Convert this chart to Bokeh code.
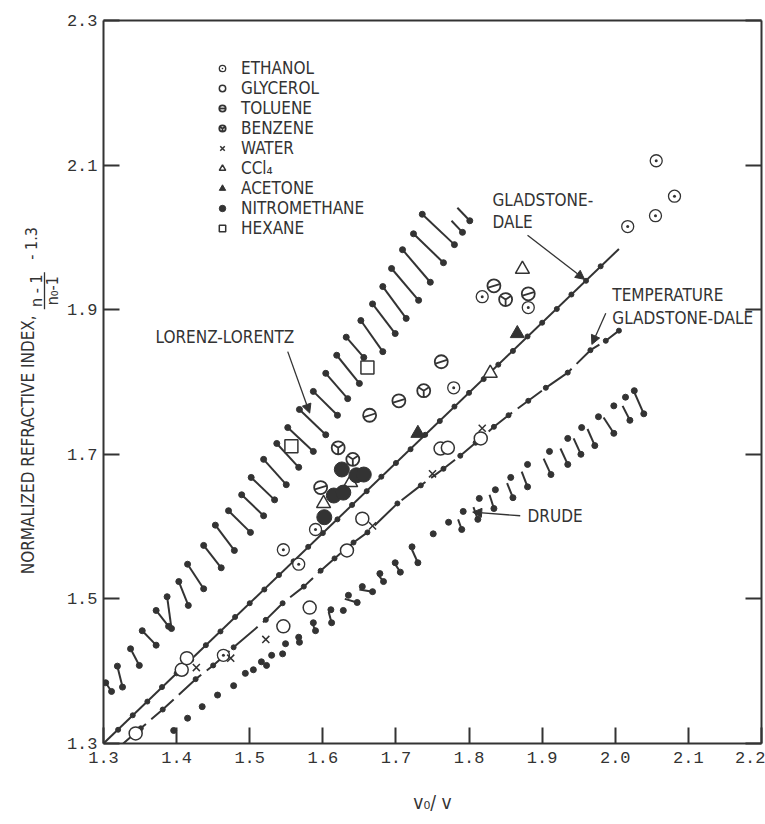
import math
from bokeh.plotting import figure
from bokeh.layouts import row
from bokeh.models import (Range1d, LinearAxis, FixedTicker, Label, Arrow, NormalHead,
                          Legend, LegendItem, PrintfTickFormatter, CustomJSTickFormatter)
from bokeh.embed import file_html
from bokeh.resources import INLINE

INK = "#333333"
SANS = "'Liberation Sans Narrow', 'DejaVu Sans Condensed', 'Roboto Condensed', sans-serif"
MONO = "Liberation Mono"

# ---------------- data ----------------
x_ticks = [1.3, 1.4, 1.5, 1.6, 1.7, 1.8, 1.9, 2.0, 2.1, 2.2]
y_ticks = [1.3, 1.5, 1.7, 1.9, 2.1, 2.3]

# Gladstone-Dale line and its dots
gd_line_x = [1.300, 2.005]
gd_line_y = [1.300, 1.984]
gd_dot_x = [1.32, 1.34, 1.36, 1.38, 1.40, 1.42, 1.44, 1.46, 1.48, 1.50, 1.52, 1.54, 1.56, 1.58,
            1.60, 1.62, 1.64, 1.66, 1.68, 1.70, 1.72, 1.74, 1.76, 1.78, 1.80, 1.82, 1.84, 1.86,
            1.88, 1.90, 1.92, 1.94, 1.96, 1.98]
gd_dot_y = [1.319, 1.339, 1.358, 1.378, 1.397, 1.416, 1.436, 1.455, 1.475, 1.494, 1.513, 1.533,
            1.552, 1.572, 1.591, 1.610, 1.630, 1.649, 1.669, 1.688, 1.707, 1.727, 1.746, 1.766,
            1.785, 1.804, 1.824, 1.843, 1.863, 1.882, 1.901, 1.921, 1.940, 1.960]

# Temperature Gladstone-Dale (dashed, with dots)
tgd_x = [1.327, 1.351, 1.381, 1.426, 1.450, 1.478, 1.522, 1.545, 1.574, 1.597, 1.616, 1.642,
         1.661, 1.702, 1.734, 1.765, 1.788, 1.809, 1.834, 1.854, 1.881, 1.905, 1.935, 1.966,
         1.987, 2.005]
tgd_y = [1.300, 1.321, 1.347, 1.389, 1.408, 1.433, 1.471, 1.494, 1.517, 1.539, 1.556, 1.578,
         1.592, 1.632, 1.657, 1.680, 1.698, 1.716, 1.738, 1.754, 1.774, 1.792, 1.813, 1.844,
         1.857, 1.871]

# Lorenz-Lorentz dumbbells: upper-left end -> lower-right end
ll_x0 = [1.784, 1.776, 1.736, 1.724, 1.709, 1.694, 1.682, 1.668, 1.652, 1.632, 1.619, 1.604,
         1.587, 1.568, 1.552, 1.537, 1.519, 1.502, 1.489, 1.471, 1.453, 1.437, 1.415, 1.403,
         1.387, 1.372, 1.353, 1.337, 1.319, 1.303]
ll_y0 = [2.041, 2.023, 2.032, 2.005, 1.983, 1.957, 1.932, 1.908, 1.885, 1.862, 1.837, 1.812,
         1.787, 1.762, 1.737, 1.715, 1.693, 1.668, 1.644, 1.622, 1.602, 1.574, 1.548, 1.524,
         1.503, 1.484, 1.456, 1.431, 1.407, 1.384]
ll_x1 = [1.801, 1.791, 1.780, 1.765, 1.747, 1.731, 1.714, 1.699, 1.682, 1.656, 1.650, 1.634,
         1.620, 1.604, 1.587, 1.567, 1.550, 1.534, 1.519, 1.501, 1.479, 1.461, 1.437, 1.416,
         1.393, 1.389, 1.372, 1.349, 1.326, 1.311]
ll_y1 = [2.023, 2.007, 1.990, 1.965, 1.938, 1.913, 1.888, 1.867, 1.842, 1.834, 1.798, 1.777,
         1.754, 1.727, 1.704, 1.682, 1.658, 1.637, 1.615, 1.592, 1.567, 1.543, 1.514, 1.491,
         1.459, 1.462, 1.436, 1.408, 1.378, 1.372]
ll_top_dot = [False, False] + [True] * 28

# Drude: dots and the short strokes that run down to them
dr_dot_x = [1.396, 1.415, 1.435, 1.456, 1.478, 1.494, 1.505, 1.516, 1.523, 1.530, 1.545, 1.549,
            1.567, 1.568, 1.587, 1.590, 1.611, 1.612, 1.628, 1.635, 1.647, 1.654, 1.668, 1.678,
            1.683, 1.699, 1.706, 1.722, 1.730, 1.751, 1.772, 1.790, 1.792, 1.812, 1.814, 1.834,
            1.836, 1.860, 1.857, 1.880, 1.880, 1.912, 1.910, 1.935, 1.935, 1.953, 1.954, 1.972,
            1.977, 1.998, 1.998, 2.020, 2.014, 2.039, 2.026]
dr_dot_y = [1.318, 1.335, 1.351, 1.367, 1.380, 1.397, 1.402, 1.413, 1.408, 1.422, 1.424, 1.438,
            1.447, 1.440, 1.467, 1.456, 1.485, 1.467, 1.484, 1.505, 1.495, 1.517, 1.510, 1.535,
            1.524, 1.550, 1.537, 1.572, 1.550, 1.590, 1.606, 1.596, 1.621, 1.610, 1.639, 1.625,
            1.651, 1.640, 1.668, 1.655, 1.686, 1.672, 1.704, 1.686, 1.722, 1.700, 1.737, 1.712,
            1.752, 1.729, 1.767, 1.747, 1.779, 1.756, 1.788]
dr_x0 = [2.026, 2.010, 1.984, 1.962, 1.943, 1.925, 1.902, 1.872, 1.852, 1.828, 1.806, 1.785,
         1.722, 1.699, 1.676, 1.650, 1.630, 1.608, 1.586, 1.566]
dr_y0 = [1.786, 1.767, 1.751, 1.735, 1.722, 1.708, 1.694, 1.676, 1.660, 1.644, 1.627, 1.610,
         1.568, 1.548, 1.533, 1.513, 1.500, 1.482, 1.465, 1.447]
dr_x1 = [2.039, 2.020, 1.998, 1.972, 1.953, 1.935, 1.912, 1.880, 1.860, 1.834, 1.812, 1.790,
         1.730, 1.706, 1.683, 1.668, 1.647, 1.612, 1.590, 1.568]
dr_y1 = [1.756, 1.747, 1.729, 1.712, 1.700, 1.686, 1.672, 1.655, 1.640, 1.625, 1.610, 1.596,
         1.550, 1.537, 1.524, 1.510, 1.495, 1.467, 1.456, 1.440]

# Experimental points
ethanol_x = [1.464, 1.546, 1.567, 1.590, 1.779, 1.818, 1.881, 2.017, 2.055, 2.056, 2.081]
ethanol_y = [1.422, 1.568, 1.548, 1.596, 1.792, 1.918, 1.903, 2.015, 2.030, 2.106, 2.057]
glycerol_x = [1.344, 1.407, 1.414, 1.546, 1.582, 1.633, 1.654, 1.761, 1.771, 1.816]
glycerol_y = [1.314, 1.402, 1.418, 1.462, 1.488, 1.567, 1.611, 1.708, 1.709, 1.722]
toluene_x = [1.597, 1.664, 1.704, 1.762, 1.834, 1.881]
toluene_y = [1.654, 1.754, 1.774, 1.828, 1.933, 1.922]
benzene_x = [1.621, 1.641, 1.738, 1.850]
benzene_y = [1.709, 1.693, 1.788, 1.914]
water_x = [1.427, 1.474, 1.522, 1.668, 1.750, 1.818]
water_y = [1.405, 1.418, 1.444, 1.601, 1.673, 1.736]
ccl4_x = [1.601, 1.638, 1.829, 1.873]
ccl4_y = [1.632, 1.661, 1.812, 1.956]
acetone_x = [1.730, 1.866]
acetone_y = [1.729, 1.867]
nitro_x = [1.602, 1.615, 1.628, 1.626, 1.646, 1.656]
nitro_y = [1.613, 1.643, 1.647, 1.679, 1.671, 1.672]
hexane_x = [1.557, 1.661]
hexane_y = [1.711, 1.820]

# ---------------- main figure ----------------
p = figure(width=703, height=824, x_range=Range1d(1.3, 2.2), y_range=Range1d(1.3, 2.3),
           output_backend="svg", toolbar_location=None,
           min_border_left=41, min_border_right=4, min_border_top=20, min_border_bottom=81)
p.xgrid.visible = False
p.ygrid.visible = False
p.outline_line_color = None

def style_axis(ax, ticks, labels=True):
    ax.ticker = FixedTicker(ticks=ticks)
    ax.axis_line_color = INK
    ax.axis_line_width = 2
    ax.major_tick_line_color = INK
    ax.major_tick_line_width = 2
    ax.major_tick_in = 16
    ax.major_tick_out = 0
    ax.minor_tick_line_color = None
    if labels:
        ax.formatter = PrintfTickFormatter(format="%.1f")
        ax.major_label_text_font = MONO
        ax.major_label_text_font_size = "17px"
        ax.major_label_text_color = INK
    else:
        ax.formatter = CustomJSTickFormatter(code="return ''")
        ax.major_label_text_font_size = "1px"

style_axis(p.xaxis[0], x_ticks)
style_axis(p.yaxis[0], y_ticks)
p.xaxis[0].major_label_standoff = 8
p.yaxis[0].major_label_standoff = 6
p.xaxis[0].axis_label = "v₀/ v"
p.xaxis[0].axis_label_text_font = SANS
p.xaxis[0].axis_label_text_font_style = "normal"
p.xaxis[0].axis_label_text_font_size = "19px"
p.xaxis[0].axis_label_text_color = INK
p.xaxis[0].axis_label_standoff = 25

right = LinearAxis()
style_axis(right, y_ticks, labels=False)
p.add_layout(right, "right")
top = LinearAxis()
style_axis(top, x_ticks, labels=False)
top.major_tick_in = 0
p.add_layout(top, "above")

# Gladstone-Dale
p.line(gd_line_x, gd_line_y, line_color=INK, line_width=2)
p.scatter(gd_dot_x, gd_dot_y, size=5, color=INK)

# Temperature Gladstone-Dale
p.line(tgd_x, tgd_y, line_color=INK, line_width=2, line_dash="30 7")
p.scatter(tgd_x[1:], tgd_y[1:], size=5, color=INK)

# Lorenz-Lorentz
p.segment(ll_x0, ll_y0, ll_x1, ll_y1, line_color=INK, line_width=2)
p.scatter([x for x, t in zip(ll_x0, ll_top_dot) if t], [y for y, t in zip(ll_y0, ll_top_dot) if t],
          size=6, color=INK)
p.scatter(ll_x1, ll_y1, size=6, color=INK)

# Drude
p.segment(dr_x0, dr_y0, dr_x1, dr_y1, line_color=INK, line_width=2)
p.scatter(dr_dot_x, dr_dot_y, size=6, color=INK)

# experimental markers
r_eth = p.scatter(ethanol_x, ethanol_y, marker="circle_dot", size=12, line_color=INK,
                  fill_color="white", line_width=1.3)
r_gly = p.scatter(glycerol_x, glycerol_y, marker="circle", size=13, line_color=INK,
                  fill_color="white", line_width=1.5)
r_tol_a = p.scatter(toluene_x, toluene_y, marker="circle", size=13, line_color=INK,
                    fill_color="white", line_width=1.8)
r_tol_b = p.scatter(toluene_x, toluene_y, marker="dash", size=12, line_color=INK,
                    angle=0.3, line_width=1.8)
r_ben = p.scatter(benzene_x, benzene_y, marker="circle_y", size=13, line_color=INK,
                  fill_color="white", line_width=1.8)
r_wat = p.scatter(water_x, water_y, marker="x", size=10, line_color=INK, line_width=1.5)
r_ccl = p.scatter(ccl4_x, ccl4_y, marker="triangle", size=14, line_color=INK,
                  fill_color="white", line_width=1.5)
r_ace = p.scatter(acetone_x, acetone_y, marker="triangle", size=14, line_color=INK,
                  fill_color=INK)
r_nit = p.scatter(nitro_x, nitro_y, marker="circle", size=15, line_color=INK, fill_color=INK)
r_hex = p.scatter(hexane_x, hexane_y, marker="square", size=13, line_color=INK,
                  fill_color="white", line_width=1.5)

legend = Legend(items=[
    LegendItem(label="ETHANOL", renderers=[r_eth]),
    LegendItem(label="GLYCEROL", renderers=[r_gly]),
    LegendItem(label="TOLUENE", renderers=[r_tol_a, r_tol_b]),
    LegendItem(label="BENZENE", renderers=[r_ben]),
    LegendItem(label="WATER", renderers=[r_wat]),
    LegendItem(label="CCl₄", renderers=[r_ccl]),
    LegendItem(label="ACETONE", renderers=[r_ace]),
    LegendItem(label="NITROMETHANE", renderers=[r_nit]),
    LegendItem(label="HEXANE", renderers=[r_hex]),
], location=(109, 505), orientation="vertical")
legend.border_line_color = None
legend.background_fill_alpha = 0
legend.padding = 0
legend.margin = 0
legend.spacing = 0
legend.glyph_width = 20
legend.glyph_height = 16
legend.label_height = 16
legend.label_standoff = 9
legend.label_text_font = SANS
legend.label_text_font_size = "17px"
legend.label_text_color = INK
p.add_layout(legend, "center")

def txt(fig, x, y, s, size="17px", align="left", baseline="middle", angle=0.0):
    fig.add_layout(Label(x=x, y=y, text=s, text_font=SANS, text_font_size=size,
                         text_color=INK, text_align=align, text_baseline=baseline, angle=angle))

def arrow(x0, y0, x1, y1):
    p.add_layout(Arrow(end=NormalHead(size=9, fill_color=INK, line_color=INK, line_width=1),
                       x_start=x0, y_start=y0, x_end=x1, y_end=y1,
                       line_color=INK, line_width=1.3))

txt(p, 1.832, 2.052, "GLADSTONE-")
txt(p, 1.832, 2.021, "DALE")
arrow(1.880, 2.003, 1.958, 1.942)

txt(p, 1.996, 1.920, "TEMPERATURE")
txt(p, 1.996, 1.888, "GLADSTONE-DALE")
arrow(1.987, 1.895, 1.968, 1.852)

txt(p, 1.561, 1.862, "LORENZ-LORENTZ", align="right")
arrow(1.552, 1.842, 1.582, 1.757)

txt(p, 1.880, 1.614, "DRUDE")
arrow(1.870, 1.615, 1.805, 1.620)

# ---------------- left strip holding the y-axis title ----------------
side = figure(width=62, height=824, x_range=Range1d(0, 62), y_range=Range1d(824, 0),
              output_backend="svg", toolbar_location=None, min_border=0,
              x_axis_location=None, y_axis_location=None)
side.outline_line_color = None
side.xgrid.visible = False
side.ygrid.visible = False
# text reads upward; its end sits just below the fraction
txt(side, 27, 336, "NORMALIZED REFRACTIVE INDEX,", size="17px", align="right",
    angle=math.pi / 2)
txt(side, 36, 308, "n - 1", size="16px", align="center", angle=math.pi / 2)
txt(side, 52, 308, "n₀-1", size="16px", align="center", angle=math.pi / 2)
txt(side, 31, 254, "- 1.3", size="16px", align="center", angle=math.pi / 2)
side.add_layout(Arrow(end=None, x_start=44, y_start=287, x_end=44, y_end=329,
                      line_color=INK, line_width=1.3))

layout = row(side, p)
open("out.html", "w").write(file_html(layout, INLINE))
